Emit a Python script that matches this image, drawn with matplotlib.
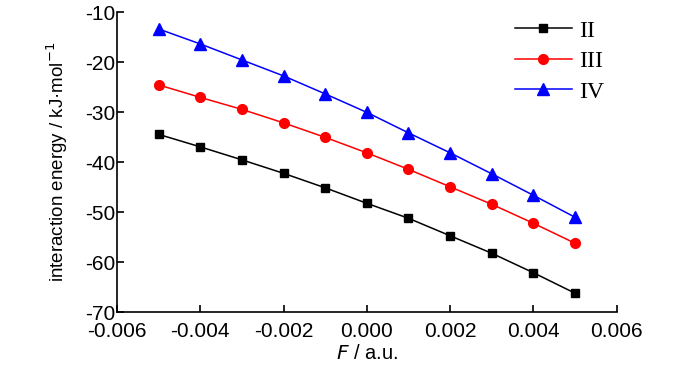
import matplotlib.pyplot as plt
import numpy as np

# pole elektryczne F [a.u.]
field = [-0.005, -0.004, -0.003, -0.002, -0.001, 0.000,
         0.001, 0.002, 0.003, 0.004, 0.005]

# energia oddziaływania [kJ/mol]
e_II = [-34.4, -36.9, -39.5, -42.2, -45.1, -48.2,
        -51.2, -54.7, -58.2, -62.1, -66.2]
e_III = [-24.5, -27.0, -29.4, -32.1, -35.0, -38.1,
         -41.4, -44.9, -48.4, -52.2, -56.2]
e_IV = [-13.3, -16.3, -19.5, -22.7, -26.3, -30.0,
        -34.1, -38.1, -42.3, -46.6, -51.0]

series_labels = ['II', 'III', 'IV']

x_ticks = [-0.006, -0.004, -0.002, 0.000, 0.002, 0.004, 0.006]
y_ticks = [-70, -60, -50, -40, -30, -20, -10]

plt.rcParams['font.family'] = ['Liberation Sans', 'DejaVu Sans']

fig = plt.figure(figsize=(7, 3.66), dpi=100)
ax = fig.add_axes([0.167, 0.147, 0.714, 0.819])

ax.plot(field, e_II, 'k-s', lw=1.1, ms=6, label=series_labels[0])
ax.plot(field, e_III, 'r-o', lw=1.1, ms=7, label=series_labels[1])
ax.plot(field, e_IV, 'b-^', lw=1.1, ms=8, label=series_labels[2])

ax.set_xlim(-0.006, 0.006)
ax.set_ylim(-70, -10)
ax.set_xticks(x_ticks)
ax.set_xticklabels([f'{t:.3f}' for t in x_ticks])
ax.set_yticks(y_ticks)
ax.set_yticklabels([str(t) for t in y_ticks])

ax.spines['top'].set_visible(False)
ax.spines['right'].set_visible(False)
ax.spines['left'].set_linewidth(1.2)
ax.spines['bottom'].set_linewidth(1.2)
ax.tick_params(direction='in', length=5, width=1.2, labelsize=15, pad=1)
ax.tick_params(axis='x', pad=7)

ax.set_xlabel('$\\mathit{F}$ / a.u.', fontsize=14.5, labelpad=2)
ax.set_ylabel('interaction energy / kJ·mol$^{-1}$', fontsize=13.5, labelpad=11)

leg = ax.legend(loc='upper left', bbox_to_anchor=(515 / 700, 1 - 20 / 366),
                bbox_transform=fig.transFigure, frameon=False,
                borderaxespad=0, borderpad=0,
                prop={'family': 'Liberation Serif', 'size': 17},
                handlelength=2.4, handletextpad=0.3, labelspacing=0.38)

fig.savefig('out.png', dpi=100)
